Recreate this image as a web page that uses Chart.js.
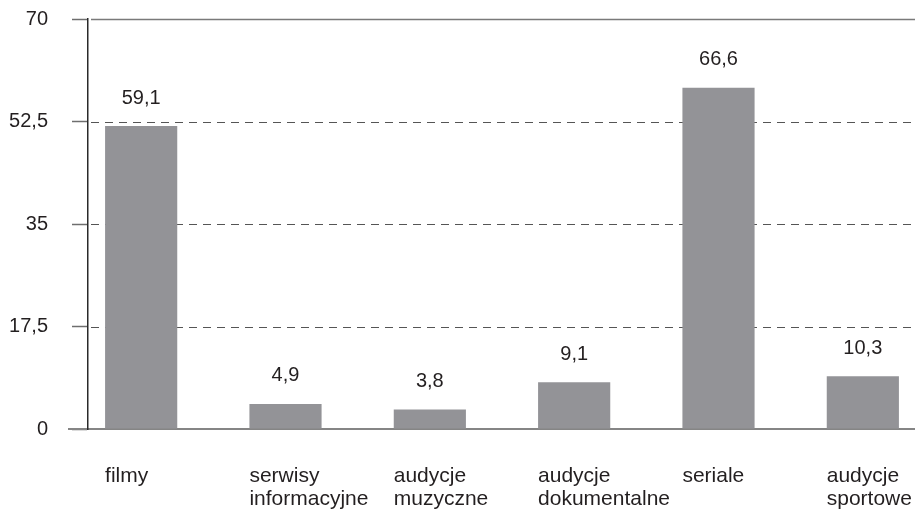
<!DOCTYPE html>
<html>
<head>
<meta charset="utf-8">
<script src="https://cdn.jsdelivr.net/npm/chart.js@4/dist/chart.umd.min.js"></script>
<style>
  html, body { margin: 0; padding: 0; background: #ffffff; }
  #wrap { width: 915px; height: 513px; position: relative; }
</style>
</head>
<body>
<div id="wrap"><canvas id="c" width="915" height="513"></canvas></div>
<script>
// ---- data ----
const categories = [
  ["filmy"],
  ["serwisy", "informacyjne"],
  ["audycje", "muzyczne"],
  ["audycje", "dokumentalne"],
  ["seriale"],
  ["audycje", "sportowe"]
];
const values = [59.1, 4.9, 3.8, 9.1, 66.6, 10.3];
const yTickLabels = ["0", "17,5", "35", "52,5", "70"];

const FONT = "'Liberation Sans', Arial, sans-serif";
const TEXT = "#231f20";
const fmt = v => String(v).replace(".", ",");

// category band extends a little past the plot on both sides, as in the source
const xBand = { leftExtra: 19, rightExtra: 20 };

const bandPlugin = {
  id: "band",
  afterLayout(chart) {
    const xs = chart.scales.x;
    const ca = chart.chartArea;
    xs.left = ca.left - xBand.leftExtra;
    xs.right = ca.right + xBand.rightExtra;
    xs.width = xs.right - xs.left;
    xs.configure();
  }
};

const gridPlugin = {
  id: "gridLines",
  beforeDatasetsDraw(chart) {
    const { ctx, chartArea, scales } = chart;
    const ys = scales.y;
    ctx.save();
    ys.ticks.forEach((t, i) => {
      if (i === 0) return;
      const y = Math.round(ys.getPixelForValue(t.value)) + 0.5;
      const last = i === ys.ticks.length - 1;
      ctx.beginPath();
      if (last) {
        ctx.setLineDash([]);
        ctx.strokeStyle = "#7a7a7a";
        ctx.lineWidth = 1.5;
      } else {
        ctx.setLineDash([8, 6]);
        ctx.strokeStyle = "#555555";
        ctx.lineWidth = 1;
      }
      ctx.moveTo(chartArea.left + 3, y);
      ctx.lineTo(chart.width, y);
      ctx.stroke();
    });
    ctx.restore();
  }
};

const labelPlugin = {
  id: "labels",
  afterDatasetsDraw(chart) {
    const { ctx, chartArea } = chart;
    const meta = chart.getDatasetMeta(0);
    ctx.save();
    ctx.fillStyle = TEXT;
    ctx.textBaseline = "middle";
    meta.data.forEach((bar, i) => {
      ctx.font = "20px " + FONT;
      ctx.textAlign = "center";
      ctx.fillText(fmt(values[i]), bar.x, bar.y - 28);
      ctx.font = "21px " + FONT;
      ctx.textAlign = "left";
      const left = bar.x - bar.width / 2;
      categories[i].forEach((line, j) => {
        ctx.fillText(line, left, chartArea.bottom + 47 + j * 23);
      });
    });
    ctx.restore();
  }
};

new Chart(document.getElementById("c"), {
  type: "bar",
  data: {
    labels: categories.map(c => c.join(" ")),
    datasets: [{
      data: values,
      backgroundColor: "#939397",
      borderWidth: 0,
      barPercentage: 0.5,
      categoryPercentage: 1.0
    }]
  },
  options: {
    responsive: false,
    animation: false,
    devicePixelRatio: 1,
    layout: { padding: { top: 19, right: 0, bottom: 84, left: 0 } },
    plugins: { legend: { display: false }, tooltip: { enabled: false } },
    scales: {
      x: {
        grid: { display: false, drawTicks: false },
        ticks: { display: false },
        border: { display: true, color: "#858585", width: 2 }
      },
      y: {
        min: 0,
        max: 80,
        afterFit(scale) {
          scale.width = 88;
          scale.paddingTop = 0;
          scale.paddingBottom = 0;
        },
        ticks: {
          stepSize: 20,
          padding: 24,
          color: TEXT,
          font: { family: FONT, size: 20 },
          callback: (v, i) => yTickLabels[i]
        },
        grid: {
          drawOnChartArea: false,
          drawTicks: true,
          tickLength: 16,
          tickColor: "#6e6e6e",
          tickWidth: 1.5
        },
        border: { display: true, color: "#2a2a2a", width: 1.5 }
      }
    }
  },
  plugins: [bandPlugin, gridPlugin, labelPlugin]
});
</script>
</body>
</html>
